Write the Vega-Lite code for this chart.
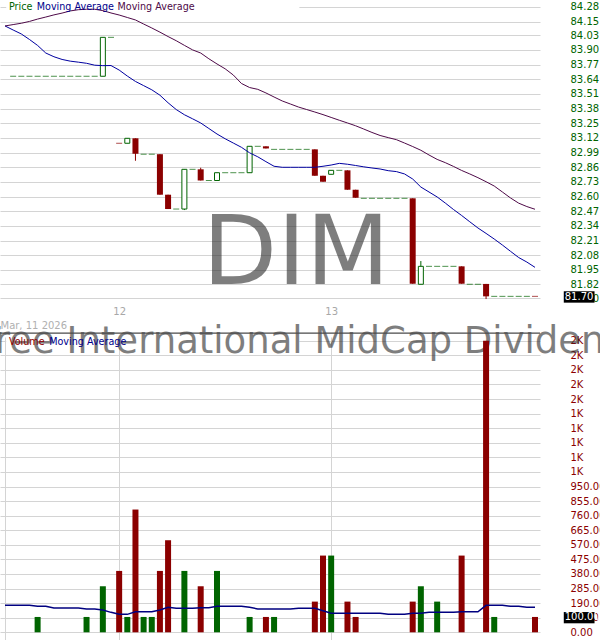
{
  "$schema": "https://vega.github.io/schema/vega-lite/v6.json",
  "width": 540,
  "height": 640,
  "autosize": {"type": "none"},
  "padding": {"left": 0, "top": 0, "right": 60, "bottom": 0},
  "background": "white",
  "config": {
    "view": {"stroke": null},
    "font": "DejaVu Sans",
    "text": {"font": "DejaVu Sans"}
  },
  "datasets": {
    "bars": [
      {"i": 1, "o": 83.666, "h": 83.666, "l": 83.666, "c": 83.666, "v": 0, "d": "up"},
      {"i": 2, "o": 83.666, "h": 83.666, "l": 83.666, "c": 83.666, "v": 0, "d": "up"},
      {"i": 3, "o": 83.666, "h": 83.666, "l": 83.666, "c": 83.666, "v": 0, "d": "up"},
      {"i": 4, "o": 83.666, "h": 83.666, "l": 83.666, "c": 83.666, "v": 100, "d": "up"},
      {"i": 5, "o": 83.666, "h": 83.666, "l": 83.666, "c": 83.666, "v": 0, "d": "up"},
      {"i": 6, "o": 83.666, "h": 83.666, "l": 83.666, "c": 83.666, "v": 0, "d": "up"},
      {"i": 7, "o": 83.666, "h": 83.666, "l": 83.666, "c": 83.666, "v": 0, "d": "up"},
      {"i": 8, "o": 83.666, "h": 83.666, "l": 83.666, "c": 83.666, "v": 0, "d": "up"},
      {"i": 9, "o": 83.666, "h": 83.666, "l": 83.666, "c": 83.666, "v": 0, "d": "up"},
      {"i": 10, "o": 83.666, "h": 83.666, "l": 83.666, "c": 83.666, "v": 100, "d": "up"},
      {"i": 11, "o": 83.666, "h": 83.666, "l": 83.666, "c": 83.666, "v": 0, "d": "up"},
      {"i": 12, "o": 83.666, "h": 84.011, "l": 83.666, "c": 84.011, "v": 300, "d": "up"},
      {"i": 13, "o": 84.011, "h": 84.011, "l": 84.011, "c": 84.011, "v": 0, "d": "up"},
      {"i": 14, "o": 83.072, "h": 83.072, "l": 83.072, "c": 83.072, "v": 400, "d": "down"},
      {"i": 15, "o": 83.072, "h": 83.116, "l": 83.072, "c": 83.116, "v": 100, "d": "up"},
      {"i": 16, "o": 83.116, "h": 83.116, "l": 82.917, "c": 82.979, "v": 800, "d": "down"},
      {"i": 17, "o": 82.975, "h": 82.975, "l": 82.975, "c": 82.975, "v": 100, "d": "up"},
      {"i": 18, "o": 82.975, "h": 82.975, "l": 82.975, "c": 82.975, "v": 100, "d": "up"},
      {"i": 19, "o": 82.975, "h": 82.975, "l": 82.616, "c": 82.616, "v": 400, "d": "down"},
      {"i": 20, "o": 82.616, "h": 82.616, "l": 82.489, "c": 82.489, "v": 600, "d": "down"},
      {"i": 21, "o": 82.489, "h": 82.489, "l": 82.489, "c": 82.489, "v": 0, "d": "up"},
      {"i": 22, "o": 82.489, "h": 82.841, "l": 82.48, "c": 82.841, "v": 400, "d": "up"},
      {"i": 23, "o": 82.841, "h": 82.841, "l": 82.841, "c": 82.841, "v": 0, "d": "up"},
      {"i": 24, "o": 82.841, "h": 82.855, "l": 82.742, "c": 82.742, "v": 300, "d": "down"},
      {"i": 25, "o": 82.742, "h": 82.742, "l": 82.742, "c": 82.742, "v": 0, "d": "up"},
      {"i": 26, "o": 82.742, "h": 82.811, "l": 82.742, "c": 82.811, "v": 400, "d": "up"},
      {"i": 27, "o": 82.811, "h": 82.811, "l": 82.811, "c": 82.811, "v": 0, "d": "up"},
      {"i": 28, "o": 82.811, "h": 82.811, "l": 82.811, "c": 82.811, "v": 0, "d": "up"},
      {"i": 29, "o": 82.811, "h": 82.811, "l": 82.811, "c": 82.811, "v": 0, "d": "up"},
      {"i": 30, "o": 82.811, "h": 83.045, "l": 82.811, "c": 83.045, "v": 100, "d": "up"},
      {"i": 31, "o": 83.045, "h": 83.045, "l": 83.045, "c": 83.045, "v": 0, "d": "up"},
      {"i": 32, "o": 83.045, "h": 83.045, "l": 83.026, "c": 83.026, "v": 100, "d": "down"},
      {"i": 33, "o": 83.018, "h": 83.018, "l": 83.018, "c": 83.018, "v": 100, "d": "up"},
      {"i": 34, "o": 83.018, "h": 83.018, "l": 83.018, "c": 83.018, "v": 0, "d": "up"},
      {"i": 35, "o": 83.018, "h": 83.018, "l": 83.018, "c": 83.018, "v": 0, "d": "up"},
      {"i": 36, "o": 83.018, "h": 83.018, "l": 83.018, "c": 83.018, "v": 0, "d": "up"},
      {"i": 37, "o": 83.018, "h": 83.018, "l": 83.018, "c": 83.018, "v": 0, "d": "up"},
      {"i": 38, "o": 83.018, "h": 83.018, "l": 82.784, "c": 82.784, "v": 200, "d": "down"},
      {"i": 39, "o": 82.784, "h": 82.784, "l": 82.731, "c": 82.731, "v": 500, "d": "down"},
      {"i": 40, "o": 82.797, "h": 82.832, "l": 82.797, "c": 82.832, "v": 500, "d": "up"},
      {"i": 41, "o": 82.832, "h": 82.832, "l": 82.832, "c": 82.832, "v": 0, "d": "up"},
      {"i": 42, "o": 82.832, "h": 82.832, "l": 82.66, "c": 82.66, "v": 200, "d": "down"},
      {"i": 43, "o": 82.66, "h": 82.66, "l": 82.589, "c": 82.589, "v": 100, "d": "down"},
      {"i": 44, "o": 82.584, "h": 82.584, "l": 82.584, "c": 82.584, "v": 0, "d": "up"},
      {"i": 45, "o": 82.584, "h": 82.584, "l": 82.584, "c": 82.584, "v": 0, "d": "up"},
      {"i": 46, "o": 82.584, "h": 82.584, "l": 82.584, "c": 82.584, "v": 0, "d": "up"},
      {"i": 47, "o": 82.584, "h": 82.584, "l": 82.584, "c": 82.584, "v": 0, "d": "up"},
      {"i": 48, "o": 82.584, "h": 82.584, "l": 82.584, "c": 82.584, "v": 0, "d": "up"},
      {"i": 49, "o": 82.584, "h": 82.584, "l": 82.584, "c": 82.584, "v": 0, "d": "up"},
      {"i": 50, "o": 82.584, "h": 82.584, "l": 81.827, "c": 81.827, "v": 200, "d": "down"},
      {"i": 51, "o": 81.822, "h": 82.028, "l": 81.822, "c": 81.981, "v": 300, "d": "up"},
      {"i": 52, "o": 81.981, "h": 81.981, "l": 81.981, "c": 81.981, "v": 0, "d": "up"},
      {"i": 53, "o": 81.981, "h": 81.981, "l": 81.981, "c": 81.981, "v": 200, "d": "up"},
      {"i": 54, "o": 81.981, "h": 81.981, "l": 81.981, "c": 81.981, "v": 0, "d": "up"},
      {"i": 55, "o": 81.981, "h": 81.981, "l": 81.981, "c": 81.981, "v": 0, "d": "up"},
      {"i": 56, "o": 81.981, "h": 81.981, "l": 81.827, "c": 81.827, "v": 500, "d": "down"},
      {"i": 57, "o": 81.822, "h": 81.822, "l": 81.822, "c": 81.822, "v": 0, "d": "up"},
      {"i": 58, "o": 81.822, "h": 81.822, "l": 81.822, "c": 81.822, "v": 0, "d": "up"},
      {"i": 59, "o": 81.825, "h": 81.825, "l": 81.691, "c": 81.715, "v": 1900, "d": "down"},
      {"i": 60, "o": 81.715, "h": 81.715, "l": 81.715, "c": 81.715, "v": 100, "d": "up"},
      {"i": 61, "o": 81.715, "h": 81.715, "l": 81.715, "c": 81.715, "v": 0, "d": "up"},
      {"i": 62, "o": 81.715, "h": 81.715, "l": 81.715, "c": 81.715, "v": 0, "d": "up"},
      {"i": 63, "o": 81.715, "h": 81.715, "l": 81.715, "c": 81.715, "v": 0, "d": "up"},
      {"i": 64, "o": 81.715, "h": 81.715, "l": 81.715, "c": 81.715, "v": 0, "d": "up"},
      {"i": 65, "o": 81.715, "h": 81.715, "l": 81.715, "c": 81.715, "v": 100, "d": "down"}
    ],
    "ma": [
      {"i": 0, "m1": 84.112, "m2": 84.112, "vm": 176},
      {"i": 1, "m1": 84.076, "m2": 84.124, "vm": 176},
      {"i": 2, "m1": 84.041, "m2": 84.136, "vm": 176},
      {"i": 3, "m1": 83.992, "m2": 84.152, "vm": 176},
      {"i": 4, "m1": 83.939, "m2": 84.173, "vm": 169},
      {"i": 5, "m1": 83.872, "m2": 84.191, "vm": 169},
      {"i": 6, "m1": 83.839, "m2": 84.21, "vm": 158},
      {"i": 7, "m1": 83.815, "m2": 84.226, "vm": 158},
      {"i": 8, "m1": 83.8, "m2": 84.245, "vm": 158},
      {"i": 9, "m1": 83.791, "m2": 84.256, "vm": 158},
      {"i": 10, "m1": 83.781, "m2": 84.26, "vm": 152},
      {"i": 11, "m1": 83.764, "m2": 84.26, "vm": 152},
      {"i": 12, "m1": 83.76, "m2": 84.248, "vm": 145},
      {"i": 13, "m1": 83.761, "m2": 84.227, "vm": 130},
      {"i": 14, "m1": 83.721, "m2": 84.209, "vm": 117},
      {"i": 15, "m1": 83.668, "m2": 84.187, "vm": 117},
      {"i": 16, "m1": 83.62, "m2": 84.165, "vm": 134},
      {"i": 17, "m1": 83.583, "m2": 84.129, "vm": 134},
      {"i": 18, "m1": 83.546, "m2": 84.094, "vm": 134},
      {"i": 19, "m1": 83.498, "m2": 84.057, "vm": 145},
      {"i": 20, "m1": 83.431, "m2": 84.018, "vm": 163},
      {"i": 21, "m1": 83.371, "m2": 83.981, "vm": 156},
      {"i": 22, "m1": 83.325, "m2": 83.94, "vm": 156},
      {"i": 23, "m1": 83.289, "m2": 83.9, "vm": 156},
      {"i": 24, "m1": 83.252, "m2": 83.872, "vm": 160},
      {"i": 25, "m1": 83.203, "m2": 83.821, "vm": 160},
      {"i": 26, "m1": 83.154, "m2": 83.775, "vm": 169},
      {"i": 27, "m1": 83.112, "m2": 83.732, "vm": 169},
      {"i": 28, "m1": 83.074, "m2": 83.677, "vm": 169},
      {"i": 29, "m1": 83.036, "m2": 83.602, "vm": 169},
      {"i": 30, "m1": 82.987, "m2": 83.566, "vm": 163},
      {"i": 31, "m1": 82.952, "m2": 83.55, "vm": 152},
      {"i": 32, "m1": 82.909, "m2": 83.518, "vm": 152},
      {"i": 33, "m1": 82.868, "m2": 83.482, "vm": 152},
      {"i": 34, "m1": 82.859, "m2": 83.447, "vm": 152},
      {"i": 35, "m1": 82.859, "m2": 83.42, "vm": 152},
      {"i": 36, "m1": 82.859, "m2": 83.393, "vm": 156},
      {"i": 37, "m1": 82.859, "m2": 83.371, "vm": 156},
      {"i": 38, "m1": 82.859, "m2": 83.349, "vm": 156},
      {"i": 39, "m1": 82.868, "m2": 83.326, "vm": 141},
      {"i": 40, "m1": 82.879, "m2": 83.301, "vm": 124},
      {"i": 41, "m1": 82.894, "m2": 83.276, "vm": 124},
      {"i": 42, "m1": 82.886, "m2": 83.252, "vm": 124},
      {"i": 43, "m1": 82.875, "m2": 83.227, "vm": 124},
      {"i": 44, "m1": 82.863, "m2": 83.198, "vm": 124},
      {"i": 45, "m1": 82.853, "m2": 83.168, "vm": 124},
      {"i": 46, "m1": 82.844, "m2": 83.141, "vm": 124},
      {"i": 47, "m1": 82.829, "m2": 83.122, "vm": 117},
      {"i": 48, "m1": 82.821, "m2": 83.104, "vm": 117},
      {"i": 49, "m1": 82.8, "m2": 83.074, "vm": 117},
      {"i": 50, "m1": 82.755, "m2": 83.043, "vm": 124},
      {"i": 51, "m1": 82.684, "m2": 83.01, "vm": 124},
      {"i": 52, "m1": 82.64, "m2": 82.968, "vm": 130},
      {"i": 53, "m1": 82.596, "m2": 82.929, "vm": 130},
      {"i": 54, "m1": 82.542, "m2": 82.9, "vm": 130},
      {"i": 55, "m1": 82.485, "m2": 82.867, "vm": 130},
      {"i": 56, "m1": 82.432, "m2": 82.831, "vm": 134},
      {"i": 57, "m1": 82.376, "m2": 82.8, "vm": 134},
      {"i": 58, "m1": 82.321, "m2": 82.767, "vm": 134},
      {"i": 59, "m1": 82.273, "m2": 82.731, "vm": 176},
      {"i": 60, "m1": 82.223, "m2": 82.693, "vm": 176},
      {"i": 61, "m1": 82.17, "m2": 82.64, "vm": 176},
      {"i": 62, "m1": 82.114, "m2": 82.587, "vm": 169},
      {"i": 63, "m1": 82.059, "m2": 82.541, "vm": 169},
      {"i": 64, "m1": 82.019, "m2": 82.511, "vm": 163},
      {"i": 65, "m1": 81.972, "m2": 82.487, "vm": 163}
    ],
    "one": [{}]
  },
  "layer": [
    {
      "layer": [
        {
          "data": {"name": "one"},
          "mark": {"type": "rect", "color": "white"},
          "encoding": {
            "x": {"datum": 0.15, "type": "quantitative", "scale": {"domain": [0, 65], "nice": false, "zero": false}, "axis": null},
            "x2": {"datum": 36.1},
            "y": {"datum": 84.342, "type": "quantitative", "scale": {"domain": [81.656, 84.342], "range": [303, 0], "nice": false, "zero": false}, "axis": null},
            "y2": {"datum": 84.218}
          }
        },
        {
          "data": {"name": "bars"},
          "mark": {"type": "rule", "strokeWidth": 1},
          "encoding": {
            "x": {
              "field": "i", "type": "quantitative",
              "scale": {"domain": [0, 65], "nice": false, "zero": false},
              "axis": {
                "orient": "bottom", "offset": -337,
                "values": [0, 14, 40],
                "labelExpr": "datum.value == 14 ? '12' : datum.value == 40 ? '13' : ''",
                "grid": true, "gridColor": "#d4d4d4",
                "domain": false, "ticks": false,
                "labelPadding": 3, "labelColor": "#a8a8a8", "labelFontSize": 10, "labelFont": "DejaVu Sans",
                "labelFlush": false, "labelOverlap": false,
                "title": "Mar, 11 2026", "titleAnchor": "start", "titleAlign": "left",
                "titleColor": "#b0b0b0", "titleFontSize": 10, "titleFont": "DejaVu Sans", "titleFontWeight": "normal",
                "titlePadding": 4, "zindex": 0
              }
            },
            "y": {
              "field": "l", "type": "quantitative",
              "scale": {"domain": [81.656, 84.342], "range": [303, 0], "nice": false, "zero": false},
              "axis": {
                "orient": "right",
                "values": [81.70, 81.82, 81.95, 82.08, 82.21, 82.34, 82.47, 82.60, 82.73, 82.86, 82.99, 83.12, 83.25, 83.38, 83.51, 83.64, 83.77, 83.90, 84.03, 84.15, 84.28],
                "format": ".2f",
                "grid": true, "gridColor": "#d4d4d4",
                "domain": false, "ticks": false, "tickSize": 0,
                "labelPadding": 30, "labelAlign": "left", "labelBaseline": "middle",
                "labelColor": "#006400", "labelFontSize": 10, "labelFont": "DejaVu Sans",
                "labelFlush": false, "labelOverlap": false,
                "title": null, "zindex": 0
              }
            },
            "y2": {"field": "h"},
            "color": {"field": "d", "type": "nominal", "scale": {"domain": ["up", "down"], "range": ["#006400", "#8b0000"]}, "legend": null}
          }
        },
        {
          "data": {"name": "one"},
          "mark": {"type": "text", "text": "DIM", "fontSize": 97, "align": "center", "baseline": "alphabetic", "color": "#2a2a2a", "opacity": 0.6},
          "encoding": {
            "x": {"datum": 35.7, "type": "quantitative", "scale": {"domain": [0, 65], "nice": false, "zero": false}, "axis": null},
            "y": {"datum": 81.824, "type": "quantitative", "scale": {"domain": [81.656, 84.342], "range": [303, 0], "nice": false, "zero": false}, "axis": null}
          }
        },
        {
          "data": {"name": "bars"},
          "transform": [{"filter": "datum.d == 'down' && datum.o != datum.c"}],
          "mark": {"type": "bar", "width": 6, "color": "#8b0000"},
          "encoding": {
            "x": {"field": "i", "type": "quantitative", "scale": {"domain": [0, 65], "nice": false, "zero": false}, "axis": null},
            "y": {"field": "o", "type": "quantitative", "scale": {"domain": [81.656, 84.342], "range": [303, 0], "nice": false, "zero": false}, "axis": null},
            "y2": {"field": "c"}
          }
        },
        {
          "data": {"name": "bars"},
          "transform": [{"filter": "datum.d == 'up' && datum.o != datum.c"}],
          "mark": {"type": "bar", "width": 5, "fill": "white", "stroke": "#006400", "strokeWidth": 1},
          "encoding": {
            "x": {"field": "i", "type": "quantitative", "scale": {"domain": [0, 65], "nice": false, "zero": false}, "axis": null},
            "y": {"field": "o", "type": "quantitative", "scale": {"domain": [81.656, 84.342], "range": [303, 0], "nice": false, "zero": false}, "axis": null},
            "y2": {"field": "c"}
          }
        },
        {
          "data": {"name": "bars"},
          "transform": [{"filter": "datum.o == datum.c"}],
          "mark": {"type": "tick", "orient": "horizontal", "size": 6, "thickness": 1},
          "encoding": {
            "x": {"field": "i", "type": "quantitative", "scale": {"domain": [0, 65], "nice": false, "zero": false}, "axis": null},
            "y": {"field": "o", "type": "quantitative", "scale": {"domain": [81.656, 84.342], "range": [303, 0], "nice": false, "zero": false}, "axis": null},
            "color": {"field": "d", "type": "nominal", "scale": {"domain": ["up", "down"], "range": ["#006400", "#8b0000"]}, "legend": null}
          }
        },
        {
          "data": {"name": "ma"},
          "mark": {"type": "line", "color": "#0000a0", "strokeWidth": 1},
          "encoding": {
            "x": {"field": "i", "type": "quantitative", "scale": {"domain": [0, 65], "nice": false, "zero": false}, "axis": null},
            "y": {"field": "m1", "type": "quantitative", "scale": {"domain": [81.656, 84.342], "range": [303, 0], "nice": false, "zero": false}, "axis": null}
          }
        },
        {
          "data": {"name": "ma"},
          "mark": {"type": "line", "color": "#4e0a48", "strokeWidth": 1},
          "encoding": {
            "x": {"field": "i", "type": "quantitative", "scale": {"domain": [0, 65], "nice": false, "zero": false}, "axis": null},
            "y": {"field": "m2", "type": "quantitative", "scale": {"domain": [81.656, 84.342], "range": [303, 0], "nice": false, "zero": false}, "axis": null}
          }
        },
        {
          "data": {"name": "one"},
          "mark": {"type": "text", "text": "Price", "fontSize": 9.6, "align": "left", "baseline": "middle", "color": "#006400"},
          "encoding": {
            "x": {"datum": 0.48, "type": "quantitative", "scale": {"domain": [0, 65], "nice": false, "zero": false}, "axis": null},
            "y": {"datum": 84.28, "type": "quantitative", "scale": {"domain": [81.656, 84.342], "range": [303, 0], "nice": false, "zero": false}, "axis": null}
          }
        },
        {
          "data": {"name": "one"},
          "mark": {"type": "text", "text": "Moving Average", "fontSize": 9.6, "align": "left", "baseline": "middle", "color": "#00008b"},
          "encoding": {
            "x": {"datum": 3.9, "type": "quantitative", "scale": {"domain": [0, 65], "nice": false, "zero": false}, "axis": null},
            "y": {"datum": 84.28, "type": "quantitative", "scale": {"domain": [81.656, 84.342], "range": [303, 0], "nice": false, "zero": false}, "axis": null}
          }
        },
        {
          "data": {"name": "one"},
          "mark": {"type": "text", "text": "Moving Average", "fontSize": 9.6, "align": "left", "baseline": "middle", "color": "#4e0a48"},
          "encoding": {
            "x": {"datum": 13.8, "type": "quantitative", "scale": {"domain": [0, 65], "nice": false, "zero": false}, "axis": null},
            "y": {"datum": 84.28, "type": "quantitative", "scale": {"domain": [81.656, 84.342], "range": [303, 0], "nice": false, "zero": false}, "axis": null}
          }
        },
        {
          "data": {"name": "one"},
          "mark": {"type": "rect", "color": "black"},
          "encoding": {
            "x": {"datum": 68.53, "type": "quantitative", "scale": {"domain": [0, 65], "nice": false, "zero": false}, "axis": null},
            "x2": {"datum": 72.3},
            "y": {"datum": 81.76, "type": "quantitative", "scale": {"domain": [81.656, 84.342], "range": [303, 0], "nice": false, "zero": false}, "axis": null},
            "y2": {"datum": 81.659}
          }
        },
        {
          "data": {"name": "one"},
          "mark": {"type": "text", "text": "81.70", "fontSize": 10, "align": "left", "baseline": "middle", "color": "white"},
          "encoding": {
            "x": {"datum": 68.65, "type": "quantitative", "scale": {"domain": [0, 65], "nice": false, "zero": false}, "axis": null},
            "y": {"datum": 81.71, "type": "quantitative", "scale": {"domain": [81.656, 84.342], "range": [303, 0], "nice": false, "zero": false}, "axis": null}
          }
        }
      ],
      "resolve": {"axis": {"x": "independent", "y": "independent"}}
    },
    {
      "layer": [
        {
          "data": {"name": "one"},
          "mark": {"type": "rect", "color": "white"},
          "encoding": {
            "x": {"datum": 0.15, "type": "quantitative", "scale": {"domain": [0, 65], "nice": false, "zero": false}, "axis": null},
            "x2": {"datum": 36.1},
            "y": {"datum": 1937, "type": "quantitative", "scale": {"domain": [-50.2, 1957], "range": [640, 332], "nice": false, "zero": false}, "axis": null},
            "y2": {"datum": 1852}
          }
        },
        {
          "data": {"name": "one"},
          "mark": {"type": "text", "text": "WisdomTree International MidCap Dividend Fund", "fontSize": 37, "align": "center", "baseline": "alphabetic", "color": "#2a2a2a", "opacity": 0.6},
          "encoding": {
            "x": {"datum": 33.7, "type": "quantitative", "scale": {"domain": [0, 65], "nice": false, "zero": false}, "axis": null},
            "y": {"datum": 1820, "type": "quantitative", "scale": {"domain": [-50.2, 1957], "range": [640, 332], "nice": false, "zero": false}, "axis": null}
          }
        },
        {
          "data": {"name": "one"},
          "mark": {"type": "rule", "color": "#4a4a4a", "strokeWidth": 1.2},
          "encoding": {
            "y": {"datum": 1950, "type": "quantitative", "scale": {"domain": [-50.2, 1957], "range": [640, 332], "nice": false, "zero": false}, "axis": null}
          }
        },
        {
          "data": {"name": "bars"},
          "transform": [{"filter": "datum.v > 0"}],
          "mark": {"type": "bar", "width": 6},
          "encoding": {
            "x": {"field": "i", "type": "quantitative", "scale": {"domain": [0, 65], "nice": false, "zero": false}, "axis": null},
            "y": {
              "field": "v", "type": "quantitative",
              "scale": {"domain": [-50.2, 1957], "range": [640, 332], "nice": false, "zero": false},
              "axis": {
                "orient": "right",
                "values": [0, 95, 190, 285, 380, 475, 570, 665, 760, 855, 950, 1045, 1140, 1235, 1330, 1425, 1520, 1615, 1710, 1805, 1900],
                "labelExpr": "datum.value >= 1000 ? format(datum.value / 1000, '.0f') + 'K' : format(datum.value, '.2f')",
                "grid": true, "gridColor": "#d4d4d4",
                "domain": false, "ticks": false, "tickSize": 0,
                "labelPadding": 30, "labelAlign": "left", "labelBaseline": "middle",
                "labelColor": "#8b0000", "labelFontSize": 10, "labelFont": "DejaVu Sans",
                "labelFlush": false, "labelOverlap": false,
                "title": null, "zindex": 0
              }
            },
            "y2": {"datum": 0},
            "color": {"field": "d", "type": "nominal", "scale": {"domain": ["up", "down"], "range": ["#006400", "#8b0000"]}, "legend": null}
          }
        },
        {
          "data": {"name": "ma"},
          "mark": {"type": "line", "color": "#000080", "strokeWidth": 1.5},
          "encoding": {
            "x": {"field": "i", "type": "quantitative", "scale": {"domain": [0, 65], "nice": false, "zero": false}, "axis": null},
            "y": {"field": "vm", "type": "quantitative", "scale": {"domain": [-50.2, 1957], "range": [640, 332], "nice": false, "zero": false}, "axis": null}
          }
        },
        {
          "data": {"name": "one"},
          "mark": {"type": "text", "text": "Volume", "fontSize": 9.6, "align": "left", "baseline": "middle", "color": "#8b0000"},
          "encoding": {
            "x": {"datum": 0.48, "type": "quantitative", "scale": {"domain": [0, 65], "nice": false, "zero": false}, "axis": null},
            "y": {"datum": 1895, "type": "quantitative", "scale": {"domain": [-50.2, 1957], "range": [640, 332], "nice": false, "zero": false}, "axis": null}
          }
        },
        {
          "data": {"name": "one"},
          "mark": {"type": "text", "text": "Moving Average", "fontSize": 9.6, "align": "left", "baseline": "middle", "color": "#00008b"},
          "encoding": {
            "x": {"datum": 5.42, "type": "quantitative", "scale": {"domain": [0, 65], "nice": false, "zero": false}, "axis": null},
            "y": {"datum": 1895, "type": "quantitative", "scale": {"domain": [-50.2, 1957], "range": [640, 332], "nice": false, "zero": false}, "axis": null}
          }
        },
        {
          "data": {"name": "one"},
          "mark": {"type": "rect", "color": "black"},
          "encoding": {
            "x": {"datum": 68.53, "type": "quantitative", "scale": {"domain": [0, 65], "nice": false, "zero": false}, "axis": null},
            "x2": {"datum": 72.3},
            "y": {"datum": 132, "type": "quantitative", "scale": {"domain": [-50.2, 1957], "range": [640, 332], "nice": false, "zero": false}, "axis": null},
            "y2": {"datum": 58.6}
          }
        },
        {
          "data": {"name": "one"},
          "mark": {"type": "text", "text": "100.00", "fontSize": 10, "align": "left", "baseline": "middle", "color": "white"},
          "encoding": {
            "x": {"datum": 68.65, "type": "quantitative", "scale": {"domain": [0, 65], "nice": false, "zero": false}, "axis": null},
            "y": {"datum": 100, "type": "quantitative", "scale": {"domain": [-50.2, 1957], "range": [640, 332], "nice": false, "zero": false}, "axis": null}
          }
        }
      ],
      "resolve": {"axis": {"x": "independent", "y": "independent"}}
    }
  ],
  "resolve": {"scale": {"y": "independent"}, "axis": {"x": "independent", "y": "independent"}}
}
